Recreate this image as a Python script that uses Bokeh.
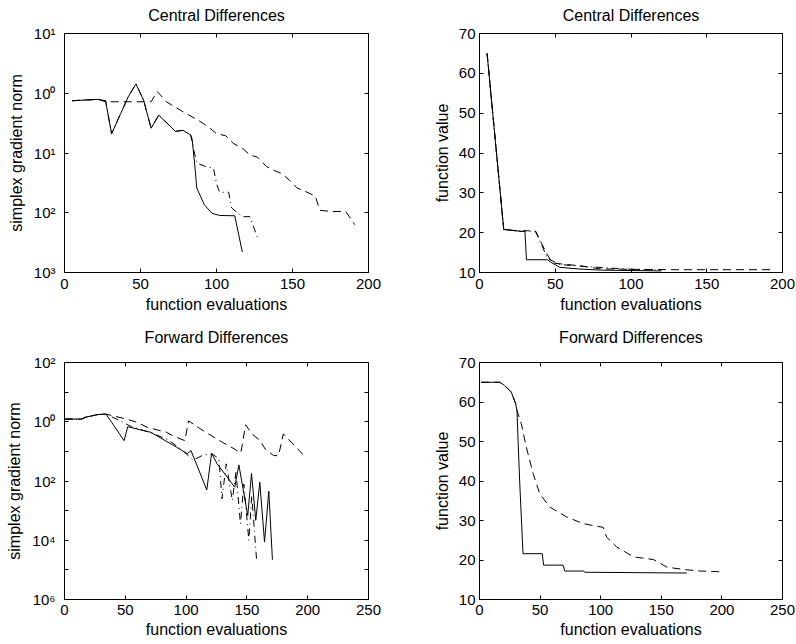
from bokeh.plotting import figure
from bokeh.layouts import gridplot
from bokeh.models import LinearAxis, LogAxis, FixedTicker, CustomJSTickFormatter
from bokeh.embed import file_html
from bokeh.resources import INLINE

FONT = "Liberation Sans"

# ---------------- data ----------------
# Top-left: Central Differences, simplex gradient norm (log)
tl_solid_x = [5, 22, 27, 31, 37, 42, 47, 52, 57, 62, 73, 78, 83, 84, 86, 87, 92, 97, 102, 112, 117]
tl_solid_y = [0.75, 0.79, 0.75, 0.21, 0.46, 0.88, 1.43, 0.77, 0.26, 0.43, 0.23, 0.24, 0.20, 0.17,
              0.052, 0.026, 0.0136, 0.0098, 0.009, 0.0089, 0.0022]
tl_dash_x = [5, 22, 27, 51, 57, 61, 67, 78, 89, 95, 100, 106, 111, 117, 122, 127, 133, 138, 143,
             148, 153, 158, 165, 168, 175, 185, 191]
tl_dash_y = [0.75, 0.79, 0.72, 0.72, 0.72, 1.07, 0.72, 0.49, 0.34, 0.27, 0.21, 0.195, 0.145, 0.12,
             0.093, 0.085, 0.059, 0.051, 0.045, 0.035, 0.026, 0.023, 0.019, 0.011, 0.0105, 0.0105,
             0.0063]
tl_dd_x = [5, 22, 27, 31, 37, 42, 47, 52, 57, 62, 73, 78, 83, 85, 87, 93, 98, 100, 102, 108, 110,
           117, 122, 127]
tl_dd_y = [0.75, 0.79, 0.75, 0.21, 0.46, 0.88, 1.43, 0.77, 0.26, 0.43, 0.23, 0.24, 0.20, 0.113,
           0.068, 0.059, 0.056, 0.031, 0.022, 0.022, 0.012, 0.0086, 0.0086, 0.0038]

# Top-right: Central Differences, function value
tr_solid_x = [5, 16, 22, 28, 30, 31, 45, 47, 53, 65, 80, 100, 120]
tr_solid_y = [65, 20.8, 20.6, 20.3, 20.3, 13.2, 13.2, 12.6, 11.3, 10.9, 10.6, 10.5, 10.4]
tr_dash_x = [5, 16, 28, 30, 37, 44, 48, 55, 66, 80, 100, 130, 160, 195]
tr_dash_y = [65, 20.8, 20.3, 20.5, 20.4, 15.0, 12.4, 12.1, 11.7, 10.9, 10.8, 10.7, 10.7, 10.7]
tr_dd_x = [5, 16, 28, 30, 37, 45, 53, 70, 100, 120]
tr_dd_y = [65, 20.8, 20.3, 20.4, 20.3, 13.5, 12.0, 11.5, 10.8, 10.6]

# Bottom-left: Forward Differences, simplex gradient norm (log)
bl_solid_x = [0.5, 14, 17, 27, 34, 38, 49, 52, 71, 92, 101, 104, 117, 121, 125.5, 140, 143.4,
              150.7, 153.8, 157.3, 160.6, 164.5, 168, 171]
bl_solid_y = [1.23, 1.23, 1.41, 1.74, 1.82, 1.07, 0.23, 0.68, 0.44, 0.14, 0.083, 0.107, 0.005,
              0.087, 0.038, 0.0062, 0.035, 0.00069, 0.018, 0.00047, 0.0091, 8.7e-5, 0.0045, 2.2e-5]
bl_dash_x = [0.5, 14, 17, 27, 34, 40, 51, 60, 68, 84, 90, 99, 102, 114, 130, 137, 145, 149, 154,
             161, 165, 172, 176, 180, 189, 196]
bl_dash_y = [1.23, 1.23, 1.41, 1.74, 1.82, 1.58, 1.23, 0.95, 0.65, 0.44, 0.32, 0.23, 1.07, 0.5,
             0.2, 0.14, 0.089, 0.79, 0.39, 0.23, 0.12, 0.072, 0.072, 0.39, 0.16, 0.079]
bl_dd_x = [0.5, 14, 17, 27, 34, 45, 55, 70, 85, 95, 106, 115, 122, 127, 129.5, 133, 138, 141,
           144.7, 147.5, 151.6, 154, 158]
bl_dd_y = [1.23, 1.23, 1.41, 1.74, 1.82, 1.12, 0.68, 0.44, 0.25, 0.126, 0.051, 0.079, 0.079,
           0.056, 0.0025, 0.038, 0.0022, 0.02, 0.00036, 0.0079, 1.0e-4, 0.0032, 2.1e-5]

# Bottom-right: Forward Differences, function value
br_solid_x = [1.4, 16.6, 20.7, 26.2, 29.8, 30.9, 33.1, 35.9, 51.8, 52.9, 69, 70.4, 85.6, 87, 127,
              171]
br_solid_y = [65, 65, 64.2, 62.5, 59.6, 57.9, 40.2, 21.6, 21.6, 18.7, 18.7, 17.2, 17.2, 16.9, 16.8,
              16.7]
br_dash_x = [1.4, 16.6, 20.7, 26.2, 29.8, 30.9, 34.5, 38.6, 44.2, 49.7, 58, 71.8, 85.6, 99.4, 102,
             104.9, 113.2, 127, 143.6, 154.6, 168.4, 182.2, 201.5]
br_dash_y = [65, 65, 64.2, 62.5, 59.6, 57.9, 54.5, 48.6, 41.9, 36.8, 33.4, 30.9, 29.2, 28.4, 28.3,
             25.8, 23.3, 20.8, 20.1, 18.2, 17.6, 17.2, 17.0]

# ticks
x_ticks_200 = [0, 50, 100, 150, 200]
x_ticks_250 = [0, 50, 100, 150, 200, 250]
lin_y_ticks = [10, 20, 30, 40, 50, 60, 70]
tl_ytick_values = [1e-3, 1e-2, 1e-1, 1e0, 1e1]
tl_ytick_labels = ["10\u00b3", "10\u00b2", "10\u00b9", "10\u2070", "10\u00b9"]
bl_ytick_values = [1e-6, 1e-5, 1e-4, 1e-3, 1e-2, 1e-1, 1e0, 1e1, 1e2]
bl_ytick_labels = ["10\u2076", "", "10\u2074", "", "10\u00b2", "", "10\u2070", "", "10\u00b2"]

titles = ["Central Differences", "Central Differences", "Forward Differences", "Forward Differences"]
xlabel = "function evaluations"
ylabel_log = "simplex gradient norm"
ylabel_lin = "function value"

# ---------------- helpers ----------------
def make_fig(xr, yr, ylog, w, h, mb):
    p = figure(width=w, height=h, x_range=xr, y_range=yr,
               y_axis_type="log" if ylog else "linear",
               output_backend="svg", toolbar_location=None,
               min_border_left=mb[0], min_border_right=mb[1],
               min_border_top=mb[2], min_border_bottom=mb[3])
    p.xgrid.grid_line_color = None
    p.ygrid.grid_line_color = None
    p.outline_line_color = "black"
    p.outline_line_alpha = 1
    p.outline_line_width = 1
    p.background_fill_color = "white"
    p.border_fill_color = "white"
    return p


def style_axis(ax, label_size="15px"):
    ax.major_tick_in = 4
    ax.major_tick_out = 0
    ax.minor_tick_line_color = None
    ax.axis_line_color = "black"
    ax.major_tick_line_color = "black"
    ax.major_label_text_font = FONT
    ax.major_label_text_font_size = label_size
    ax.major_label_text_color = "black"
    ax.axis_label_text_font = FONT
    ax.axis_label_text_font_size = "16px"
    ax.axis_label_text_font_style = "normal"
    ax.axis_label_text_color = "black"


def setup_axes(p, title, xticks, yticks, ylog, ylabel, ylabels,
               y_std, y_lab_std, x_std, x_lab_std, t_std):
    xa = p.xaxis[0]
    ya = p.yaxis[0]
    style_axis(xa)
    style_axis(ya)
    xa.ticker = FixedTicker(ticks=xticks)
    ya.ticker = FixedTicker(ticks=yticks)
    xa.axis_label = xlabel
    ya.axis_label = ylabel
    xa.major_label_standoff = x_std
    xa.axis_label_standoff = x_lab_std
    ya.major_label_standoff = y_std
    ya.axis_label_standoff = y_lab_std
    if ylabels is not None:
        ya.formatter = CustomJSTickFormatter(args=dict(tv=yticks, tl=ylabels), code="""
            for (let i = 0; i < tv.length; i++) {
                if (Math.abs(Math.log10(tv[i]) - Math.log10(tick)) < 1e-6) return tl[i];
            }
            return "";
        """)
    # mirrored tick marks on top and right (MATLAB box style); the top axis carries the title
    top = LinearAxis(ticker=FixedTicker(ticks=xticks))
    right = (LogAxis if ylog else LinearAxis)(ticker=FixedTicker(ticks=yticks))
    for ax in (top, right):
        style_axis(ax, "1px")
        ax.formatter = CustomJSTickFormatter(code="return '';")
        ax.major_label_standoff = 0
        ax.axis_line_color = None
    top.axis_label = title
    top.axis_label_standoff = t_std
    p.add_layout(top, "above")
    p.add_layout(right, "right")


def draw(p, x, y, dash):
    p.line(x, y, line_color="black", line_width=1, line_dash=dash)

DASH = "8 5"
DASHDOT = "7 4 1 4"

# ---------------- figures ----------------
W_L, W_R = 410, 385
H_T, H_B = 325, 318
mb_tl = (64, 42, 33, 53)
mb_tr = (69, 13, 33, 53)
mb_bl = (64, 42, 37, 44)
mb_br = (69, 13, 37, 44)

p1 = make_fig((0, 200), (1e-3, 1e1), True, W_L, H_T, mb_tl)
setup_axes(p1, titles[0], x_ticks_200, tl_ytick_values, True, ylabel_log, tl_ytick_labels,
           9, 6, 6, 4, 10)
draw(p1, tl_dash_x, tl_dash_y, DASH)
draw(p1, tl_dd_x, tl_dd_y, DASHDOT)
draw(p1, tl_solid_x, tl_solid_y, "solid")

p2 = make_fig((0, 200), (10, 70), False, W_R, H_T, mb_tr)
setup_axes(p2, titles[1], x_ticks_200, lin_y_ticks, False, ylabel_lin, None, 4, 5, 6, 4, 10)
draw(p2, tr_dash_x, tr_dash_y, DASH)
draw(p2, tr_dd_x, tr_dd_y, DASHDOT)
draw(p2, tr_solid_x, tr_solid_y, "solid")

p3 = make_fig((0, 250), (1e-6, 1e2), True, W_L, H_B, mb_bl)
setup_axes(p3, titles[2], x_ticks_250, bl_ytick_values, True, ylabel_log, bl_ytick_labels,
           9, 6, 5, 3, 17)
draw(p3, bl_dash_x, bl_dash_y, DASH)
draw(p3, bl_dd_x, bl_dd_y, DASHDOT)
draw(p3, bl_solid_x, bl_solid_y, "solid")

p4 = make_fig((0, 250), (10, 70), False, W_R, H_B, mb_br)
setup_axes(p4, titles[3], x_ticks_250, lin_y_ticks, False, ylabel_lin, None, 4, 5, 5, 3, 17)
draw(p4, br_dash_x, br_dash_y, DASH)
draw(p4, br_solid_x, br_solid_y, "solid")

grid = gridplot([[p1, p2], [p3, p4]], toolbar_location=None)

open("out.html", "w").write(file_html(grid, INLINE))
